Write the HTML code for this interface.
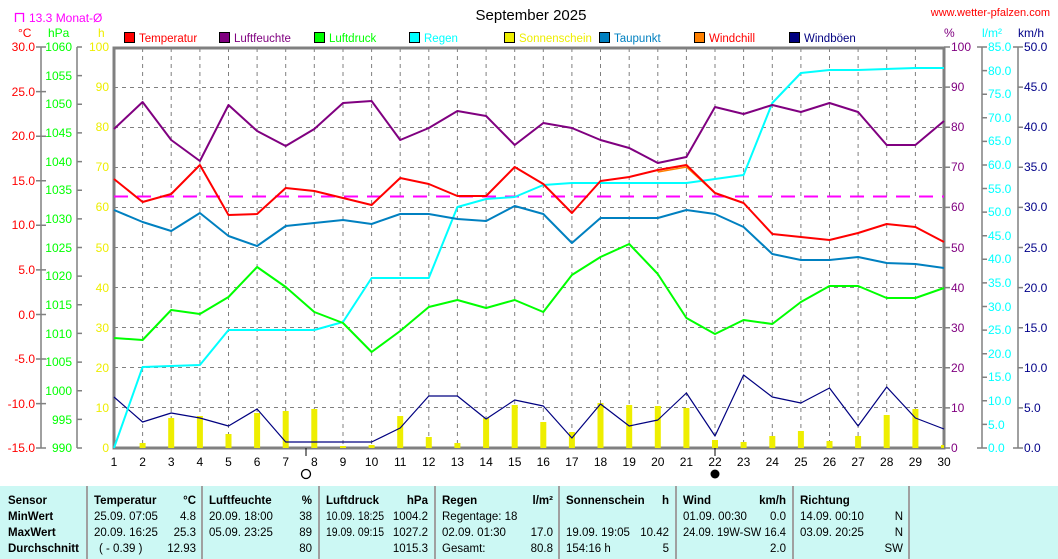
<!DOCTYPE html>
<html><head><meta charset="utf-8"><style>
body{margin:0;background:#fff;width:1058px;height:559px;overflow:hidden}
svg{display:block;font-family:"Liberation Sans",sans-serif;font-size:12px}
</style></head><body>
<svg width="1058" height="559" viewBox="0 0 1058 559" xmlns="http://www.w3.org/2000/svg">
<text x="531" y="20" font-size="15" text-anchor="middle" fill="#000">September 2025</text>
<text x="1050" y="16" text-anchor="end" fill="#f00" font-size="11">www.wetter-pfalzen.com</text>
<path d="M15.5 22V13.5H23.5V22" fill="none" stroke="#f0f" stroke-width="1.3"/>
<text x="29" y="22" fill="#f0f">13.3 Monat-Ø</text>
<text x="18" y="37" fill="#f00">°C</text><text x="48" y="37" fill="#0f0">hPa</text><text x="98" y="37" fill="#ee0">h</text>
<text x="944" y="37" fill="#800080">%</text><text x="982" y="37" fill="#0ff">l/m²</text><text x="1018" y="37" fill="#008">km/h</text>
<!-- legend -->
<g stroke="#000" stroke-width="1">
<rect x="124.5" y="32.5" width="10" height="10" fill="#f00"/><rect x="219.5" y="32.5" width="10" height="10" fill="#800080"/>
<rect x="314.5" y="32.5" width="10" height="10" fill="#0f0"/><rect x="409.5" y="32.5" width="10" height="10" fill="#0ff"/>
<rect x="504.5" y="32.5" width="10" height="10" fill="#ee0"/><rect x="599.5" y="32.5" width="10" height="10" fill="#0080c0"/>
<rect x="694.5" y="32.5" width="10" height="10" fill="#ff8000"/><rect x="789.5" y="32.5" width="10" height="10" fill="#000080"/>
</g>
<g font-size="11.5"><text x="139" y="42" fill="#f00">Temperatur</text><text x="234" y="42" fill="#800080">Luftfeuchte</text>
<text x="329" y="42" fill="#0f0">Luftdruck</text><text x="424" y="42" fill="#0ff">Regen</text>
<text x="519" y="42" fill="#ee0">Sonnenschein</text><text x="614" y="42" fill="#0080c0">Taupunkt</text>
<text x="709" y="42" fill="#f00">Windchill</text><text x="804" y="42" fill="#000080">Windböen</text></g>
<!-- grid -->
<g stroke="#808080" stroke-width="1" stroke-dasharray="4,4">
<path d="M142.6 48V448M171.2 48V448M199.9 48V448M228.5 48V448M257.1 48V448M285.7 48V448M314.3 48V448M343 48V448M371.6 48V448M400.2 48V448M428.8 48V448M457.4 48V448M486.1 48V448M514.7 48V448M543.3 48V448M571.9 48V448M600.5 48V448M629.2 48V448M657.8 48V448M686.4 48V448M715 48V448M743.6 48V448M772.3 48V448M800.9 48V448M829.5 48V448M858.1 48V448M886.7 48V448M915.4 48V448"/>
<path d="M114 87.5H944M114 127.5H944M114 167.5H944M114 207.5H944M114 247.5H944M114 287.5H944M114 327.5H944M114 367.5H944M114 407.5H944"/>
</g>
<rect x="114" y="48" width="830" height="400" fill="none" stroke="#808080" stroke-width="3"/>
<!-- side axes -->
<g stroke="#808080" stroke-width="1.5" fill="none">
<path d="M41 47V448M77 47V448M982 47V448M1018 47V448"/>
<path d="M36 47H46M36 91.6H46M36 136.2H46M36 180.7H46M36 225.3H46M36 269.9H46M36 314.5H46M36 359H46M36 403.6H46M36 448H46"/>
<path d="M77 47H82M77 75.6H82M77 104.3H82M77 132.9H82M77 161.6H82M77 190.2H82M77 218.9H82M77 247.5H82M77 276.1H82M77 304.8H82M77 333.4H82M77 362.1H82M77 390.7H82M77 419.4H82M77 448H82"/>
<path d="M944 47H950M944 87.1H950M944 127.2H950M944 167.3H950M944 207.4H950M944 247.5H950M944 287.6H950M944 327.7H950M944 367.8H950M944 407.9H950M944 448H950"/>
<path d="M977 47H987M982 70.6H987M982 94.2H987M982 117.8H987M982 141.4H987M982 165H987M982 188.5H987M982 212.1H987M982 235.7H987M982 259.3H987M982 282.9H987M982 306.5H987M982 330.1H987M982 353.7H987M982 377.3H987M982 400.8H987M982 424.4H987M977 448H987"/>
<path d="M1013 47H1023M1018 87.1H1023M1018 127.2H1023M1018 167.3H1023M1018 207.4H1023M1018 247.5H1023M1018 287.6H1023M1018 327.7H1023M1018 367.8H1023M1018 407.9H1023M1013 448H1023"/>
</g>
<g fill="#f00" text-anchor="end">
<text x="35" y="51">30.0</text><text x="35" y="96">25.0</text><text x="35" y="140">20.0</text><text x="35" y="185">15.0</text><text x="35" y="229">10.0</text><text x="35" y="274">5.0</text><text x="35" y="319">0.0</text><text x="35" y="363">-5.0</text><text x="35" y="408">-10.0</text><text x="35" y="452">-15.0</text></g>
<g fill="#0f0" text-anchor="end">
<text x="72" y="51">1060</text><text x="72" y="80">1055</text><text x="72" y="108">1050</text><text x="72" y="137">1045</text><text x="72" y="166">1040</text><text x="72" y="194">1035</text><text x="72" y="223">1030</text><text x="72" y="252">1025</text><text x="72" y="280">1020</text><text x="72" y="309">1015</text><text x="72" y="338">1010</text><text x="72" y="366">1005</text><text x="72" y="395">1000</text><text x="72" y="424">995</text><text x="72" y="452">990</text></g>
<g fill="#ee0" text-anchor="end">
<text x="109" y="51">100</text><text x="109" y="91">90</text><text x="109" y="131">80</text><text x="109" y="171">70</text><text x="109" y="211">60</text><text x="109" y="252">50</text><text x="109" y="292">40</text><text x="109" y="332">30</text><text x="109" y="372">20</text><text x="109" y="412">10</text><text x="109" y="452">0</text></g>
<g fill="#800080">
<text x="951" y="51">100</text><text x="951" y="91">90</text><text x="951" y="131">80</text><text x="951" y="171">70</text><text x="951" y="211">60</text><text x="951" y="252">50</text><text x="951" y="292">40</text><text x="951" y="332">30</text><text x="951" y="372">20</text><text x="951" y="412">10</text><text x="951" y="452">0</text></g>
<g fill="#0ff">
<text x="988" y="51">85.0</text><text x="988" y="75">80.0</text><text x="988" y="98">75.0</text><text x="988" y="122">70.0</text><text x="988" y="145">65.0</text><text x="988" y="169">60.0</text><text x="988" y="193">55.0</text><text x="988" y="216">50.0</text><text x="988" y="240">45.0</text><text x="988" y="263">40.0</text><text x="988" y="287">35.0</text><text x="988" y="311">30.0</text><text x="988" y="334">25.0</text><text x="988" y="358">20.0</text><text x="988" y="381">15.0</text><text x="988" y="405">10.0</text><text x="988" y="429">5.0</text><text x="988" y="452">0.0</text></g>
<g fill="#008">
<text x="1024" y="51">50.0</text><text x="1024" y="91">45.0</text><text x="1024" y="131">40.0</text><text x="1024" y="171">35.0</text><text x="1024" y="211">30.0</text><text x="1024" y="252">25.0</text><text x="1024" y="292">20.0</text><text x="1024" y="332">15.0</text><text x="1024" y="372">10.0</text><text x="1024" y="412">5.0</text><text x="1024" y="452">0.0</text></g>
<!-- x labels -->
<g fill="#000" text-anchor="middle">
<text x="114" y="466">1</text><text x="142.6" y="466">2</text><text x="171.2" y="466">3</text><text x="199.9" y="466">4</text><text x="228.5" y="466">5</text><text x="257.1" y="466">6</text><text x="285.7" y="466">7</text><text x="314.3" y="466">8</text><text x="343" y="466">9</text><text x="371.6" y="466">10</text><text x="400.2" y="466">11</text><text x="428.8" y="466">12</text><text x="457.4" y="466">13</text><text x="486.1" y="466">14</text><text x="514.7" y="466">15</text><text x="543.3" y="466">16</text><text x="571.9" y="466">17</text><text x="600.5" y="466">18</text><text x="629.2" y="466">19</text><text x="657.8" y="466">20</text><text x="686.4" y="466">21</text><text x="715" y="466">22</text><text x="743.6" y="466">23</text><text x="772.3" y="466">24</text><text x="800.9" y="466">25</text><text x="829.5" y="466">26</text><text x="858.1" y="466">27</text><text x="886.7" y="466">28</text><text x="915.4" y="466">29</text><text x="944" y="466">30</text></g>
<path d="M306 448V456M715 448V456" stroke="#000"/>
<circle cx="306" cy="474" r="4.5" fill="none" stroke="#000" stroke-width="1.3"/>
<circle cx="715" cy="474" r="4.5" fill="#000"/>
<!-- sunshine bars -->
<g fill="#ee0">
<rect x="139.6" y="443" width="6" height="5"/><rect x="168.2" y="418" width="6" height="30"/><rect x="196.9" y="416" width="6" height="32"/><rect x="225.5" y="434" width="6" height="14"/><rect x="254.1" y="413" width="6" height="35"/><rect x="282.7" y="411" width="6" height="37"/><rect x="311.3" y="409" width="6" height="39"/><rect x="340" y="446" width="6" height="2"/><rect x="368.6" y="445" width="6" height="3"/><rect x="397.2" y="416" width="6" height="32"/><rect x="425.8" y="437" width="6" height="11"/><rect x="454.4" y="443" width="6" height="5"/><rect x="483.1" y="418" width="6" height="30"/><rect x="511.7" y="405" width="6" height="43"/><rect x="540.3" y="422" width="6" height="26"/><rect x="568.9" y="432" width="6" height="16"/><rect x="597.5" y="403" width="6" height="45"/><rect x="626.2" y="405" width="6" height="43"/><rect x="654.8" y="406" width="6" height="42"/><rect x="683.4" y="408" width="6" height="40"/><rect x="712" y="440" width="6" height="8"/><rect x="740.6" y="442" width="6" height="6"/><rect x="769.3" y="436" width="6" height="12"/><rect x="797.9" y="431" width="6" height="17"/><rect x="826.5" y="441" width="6" height="7"/><rect x="855.1" y="436" width="6" height="12"/><rect x="883.7" y="415" width="6" height="33"/><rect x="912.4" y="409" width="6" height="39"/><rect x="941" y="445" width="3" height="3"/></g>
<path d="M114 196.5H944" stroke="#f0f" stroke-width="2" stroke-dasharray="14,9"/>
<g fill="none" stroke-linejoin="round">
<polyline stroke="#000080" stroke-width="1.2" points="114,397 142.6,422 171.2,413 199.9,418 228.5,426 257.1,409 285.7,442 314.3,442 343,442 371.6,442 400.2,428 428.8,396 457.4,396 486.1,419 514.7,400 543.3,406 571.9,438 600.5,404 629.2,426 657.8,420 686.4,393 715,436 743.6,375 772.3,397 800.9,403 829.5,388 858.1,426 886.7,387 915.4,418 944,429"/>
<polyline stroke="#0ff" stroke-width="2" points="114,448 142.6,367 171.2,366 199.9,365 228.5,330 257.1,330 285.7,330 314.3,330 343,322 371.6,278 400.2,278 428.8,278 457.4,207 486.1,199 514.7,197 543.3,185 571.9,183 600.5,183 629.2,183 657.8,183 686.4,183 715,179 743.6,175 772.3,103 800.9,73 829.5,70 858.1,70 886.7,69 915.4,68 944,68"/>
<polyline stroke="#0f0" stroke-width="2" points="114,338 142.6,340 171.2,310 199.9,314 228.5,297 257.1,267 285.7,287 314.3,312 343,323 371.6,352 400.2,331 428.8,307 457.4,300 486.1,308 514.7,300 543.3,312 571.9,275 600.5,257 629.2,244 657.8,274 686.4,318 715,334 743.6,320 772.3,324 800.9,302 829.5,286 858.1,286 886.7,298 915.4,298 944,288"/>
<polyline stroke="#0080c0" stroke-width="2" points="114,210 142.6,222 171.2,231 199.9,213 228.5,236 257.1,246 285.7,226 314.3,223 343,220 371.6,224 400.2,214 428.8,214 457.4,219 486.1,221 514.7,206 543.3,214 571.9,243 600.5,218 629.2,218 657.8,218 686.4,210 715,214 743.6,227 772.3,254 800.9,260 829.5,260 858.1,257 886.7,263 915.4,264 944,268"/>
<polyline stroke="#ff8000" stroke-width="1.5" points="657.8,172 686.4,167 715,193"/>
<polyline stroke="#f00" stroke-width="2" points="114,179 142.6,202 171.2,194 199.9,165 228.5,215 257.1,214 285.7,188 314.3,191 343,198 371.6,205 400.2,178 428.8,184 457.4,196 486.1,196 514.7,167 543.3,184 571.9,213 600.5,181 629.2,177 657.8,170 686.4,165 715,193 743.6,203 772.3,234 800.9,237 829.5,240 858.1,233 886.7,224 915.4,227 944,242"/>
<polyline stroke="#800080" stroke-width="2" points="114,129 142.6,102 171.2,140 199.9,161 228.5,105 257.1,131 285.7,146 314.3,129 343,103 371.6,101 400.2,140 428.8,128 457.4,111 486.1,116 514.7,145 543.3,123 571.9,128 600.5,140 629.2,148 657.8,163 686.4,157 715,107 743.6,114 772.3,105 800.9,112 829.5,103 858.1,112 886.7,145 915.4,145 944,121"/>
</g>
<!-- table -->
<rect x="0" y="486" width="1058" height="73" fill="#ccf8f4"/>
<g stroke="#a0a0a0" stroke-width="2"><path d="M87 486V559M202 486V559M319 486V559M435 486V559M559 486V559M676 486V559M793 486V559M909 486V559"/></g>
<g font-size="11.5" fill="#000">
<g font-weight="bold"><text x="8" y="504">Sensor</text><text x="8" y="520">MinWert</text><text x="8" y="536">MaxWert</text><text x="8" y="552">Durchschnitt</text>
<text x="94" y="504">Temperatur</text><text x="196" y="504" text-anchor="end">°C</text>
<text x="209" y="504">Luftfeuchte</text><text x="312" y="504" text-anchor="end">%</text>
<text x="326" y="504">Luftdruck</text><text x="428" y="504" text-anchor="end">hPa</text>
<text x="442" y="504">Regen</text><text x="553" y="504" text-anchor="end">l/m²</text>
<text x="566" y="504">Sonnenschein</text><text x="669" y="504" text-anchor="end">h</text>
<text x="683" y="504">Wind</text><text x="786" y="504" text-anchor="end">km/h</text>
<text x="800" y="504">Richtung</text></g>
<text x="94" y="520">25.09.  07:05</text><text x="196" y="520" text-anchor="end">4.8</text>
<text x="94" y="536">20.09.  16:25</text><text x="196" y="536" text-anchor="end">25.3</text>
<text x="99" y="552">( - 0.39 )</text><text x="196" y="552" text-anchor="end">12.93</text>
<text x="209" y="520">20.09.  18:00</text><text x="312" y="520" text-anchor="end">38</text>
<text x="209" y="536">05.09.  23:25</text><text x="312" y="536" text-anchor="end">89</text>
<text x="312" y="552" text-anchor="end">80</text>
<text x="326" y="520" textLength="58" lengthAdjust="spacingAndGlyphs">10.09.  18:25</text><text x="428" y="520" text-anchor="end">1004.2</text>
<text x="326" y="536" textLength="58" lengthAdjust="spacingAndGlyphs">19.09.  09:15</text><text x="428" y="536" text-anchor="end">1027.2</text>
<text x="428" y="552" text-anchor="end">1015.3</text>
<text x="442" y="520">Regentage: 18</text>
<text x="442" y="536">02.09.  01:30</text><text x="553" y="536" text-anchor="end">17.0</text>
<text x="442" y="552">Gesamt:</text><text x="553" y="552" text-anchor="end">80.8</text>
<text x="566" y="536">19.09.  19:05</text><text x="669" y="536" text-anchor="end">10.42</text>
<text x="566" y="552">154:16 h</text><text x="669" y="552" text-anchor="end">5</text>
<text x="683" y="520">01.09.  00:30</text><text x="786" y="520" text-anchor="end">0.0</text>
<text x="683" y="536" textLength="103" lengthAdjust="spacingAndGlyphs">24.09.  19W-SW 16.4</text>
<text x="786" y="552" text-anchor="end">2.0</text>
<text x="800" y="520">14.09.  00:10</text><text x="903" y="520" text-anchor="end">N</text>
<text x="800" y="536">03.09.  20:25</text><text x="903" y="536" text-anchor="end">N</text>
<text x="903" y="552" text-anchor="end">SW</text>
</g>
</svg>
</body></html>
